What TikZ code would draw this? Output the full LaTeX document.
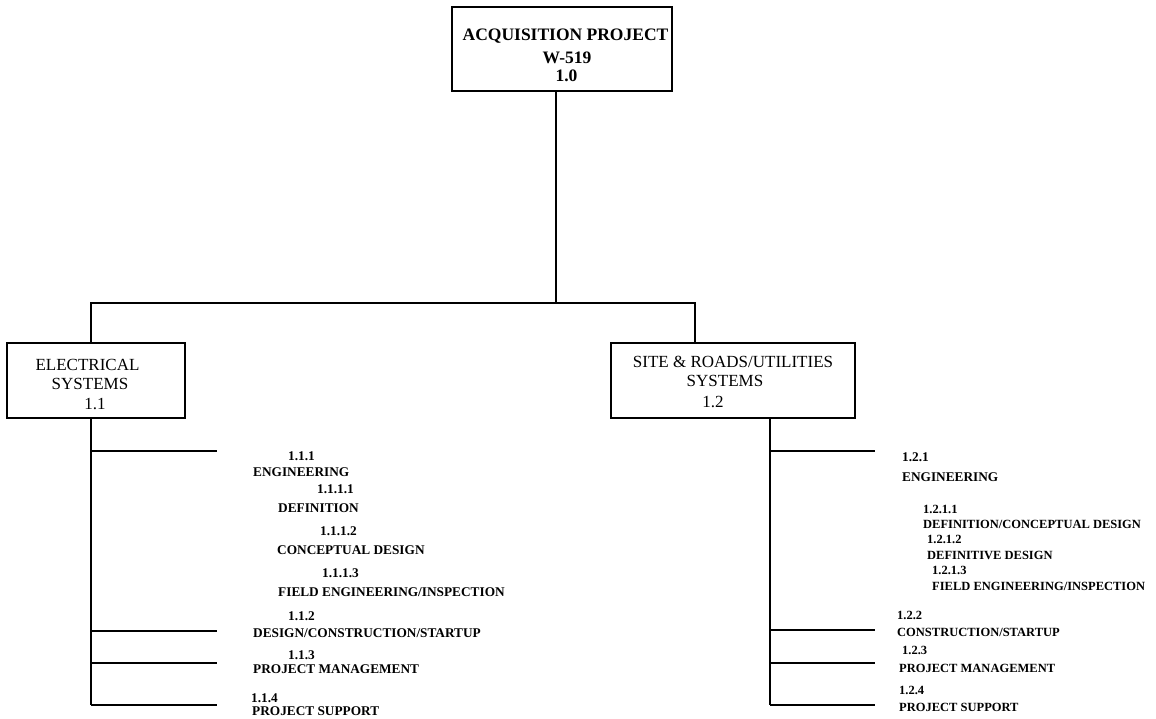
\documentclass[tikz,border=0pt]{standalone}
\usepackage{fontspec}
\setmainfont{Liberation Serif}
\begin{document}
\begin{tikzpicture}[x=1pt,y=-1pt,
  box/.style={draw, line width=1.4pt, inner sep=0pt},
  conn/.style={line width=1.4pt},
  lbl/.style={anchor=base west, inner sep=0pt, font=\fontsize{13.3}{15}\selectfont\bfseries},
  lblr/.style={anchor=base west, inner sep=0pt, font=\fontsize{12.5}{15}\selectfont\bfseries},
  boxtxt/.style={anchor=base, inner sep=0pt, font=\fontsize{17}{20}\selectfont},
  toptxt/.style={anchor=base, inner sep=0pt, font=\fontsize{17.5}{21}\selectfont\bfseries}]
\useasboundingbox[fill=white] (0,0) rectangle (1156,718);

% boxes
\node[box, minimum width=220pt, minimum height=84pt] (top) at (562,49) {};
\node[box, minimum width=178pt, minimum height=75pt] (left) at (96,380.5) {};
\node[box, minimum width=244pt, minimum height=75pt] (right) at (733,380.5) {};

\node[toptxt] (ttop1) at (565.5,40) {ACQUISITION PROJECT};
\node[toptxt] (ttop2) at (567,63) {W-519};
\node[toptxt] (ttop3) at (566.5,81) {1.0};

\node[boxtxt] (tl1) at (87.5,370) {ELECTRICAL};
\node[boxtxt] (tl2) at (90,389) {SYSTEMS};
\node[boxtxt] (tl3) at (95,409) {1.1};

\node[boxtxt] (tr1) at (733,367) {SITE \& ROADS/UTILITIES};
\node[boxtxt] (tr2) at (725,386) {SYSTEMS};
\node[boxtxt] (tr3) at (713,407) {1.2};

% top-level connectors
\coordinate (barM) at (556,303);
\coordinate (barL) at (91,303);
\coordinate (barR) at (695,303);
\draw[conn] (top.south -| barM) -- (barM);
\draw[conn] (left.north -| barL) -- (barL) -- (barR) -- (right.north -| barR);

% left trunk and branches
\coordinate (lt) at (91,705);
\coordinate (lb1) at (217,451);
\coordinate (lb2) at (217,631);
\coordinate (lb3) at (217,663);
\coordinate (lb4) at (217,705);
\draw[conn] (left.south -| lt) -- (lt);
\draw[conn] (lb1 -| lt) -- (lb1);
\draw[conn] (lb2 -| lt) -- (lb2);
\draw[conn] (lb3 -| lt) -- (lb3);
\draw[conn] (lb4 -| lt) -- (lb4);

% right trunk and branches
\coordinate (rt) at (770,705);
\coordinate (rb1) at (875,451);
\coordinate (rb2) at (875,630);
\coordinate (rb3) at (875,663);
\coordinate (rb4) at (875,705);
\draw[conn] (right.south -| rt) -- (rt);
\draw[conn] (rb1 -| rt) -- (rb1);
\draw[conn] (rb2 -| rt) -- (rb2);
\draw[conn] (rb3 -| rt) -- (rb3);
\draw[conn] (rb4 -| rt) -- (rb4);

% left labels
\node[lbl] (a1) at (288,460) {1.1.1};
\node[lbl] (a2) at (253,476) {ENGINEERING};
\node[lbl] (a3) at (317,493) {1.1.1.1};
\node[lbl] (a4) at (278,512) {DEFINITION};
\node[lbl] (a5) at (320,535) {1.1.1.2};
\node[lbl] (a6) at (277,554) {CONCEPTUAL DESIGN};
\node[lbl] (a7) at (322,577) {1.1.1.3};
\node[lbl] (a8) at (278,596) {FIELD ENGINEERING/INSPECTION};
\node[lbl] (a9) at (288,620) {1.1.2};
\node[lbl] (a10) at (253,637) {DESIGN/CONSTRUCTION/STARTUP};
\node[lbl] (a11) at (288,659) {1.1.3};
\node[lbl] (a12) at (253,673) {PROJECT MANAGEMENT};
\node[lbl] (a13) at (251,702) {1.1.4};
\node[lbl] (a14) at (252,715) {PROJECT SUPPORT};

% right labels
\node[lbl] (b1) at (902,461) {1.2.1};
\node[lbl] (b2) at (902,481) {ENGINEERING};
\node[lblr] (b3) at (923,513) {1.2.1.1};
\node[lblr] (b4) at (923,528) {DEFINITION/CONCEPTUAL DESIGN};
\node[lblr] (b5) at (927,543) {1.2.1.2};
\node[lblr] (b6) at (927,559) {DEFINITIVE DESIGN};
\node[lblr] (b7) at (932,574) {1.2.1.3};
\node[lblr] (b8) at (932,590) {FIELD ENGINEERING/INSPECTION};
\node[lblr] (b9) at (897,619) {1.2.2};
\node[lblr] (b10) at (897,636) {CONSTRUCTION/STARTUP};
\node[lblr] (b11) at (902,654) {1.2.3};
\node[lblr] (b12) at (899,672) {PROJECT MANAGEMENT};
\node[lblr] (b13) at (899,694) {1.2.4};
\node[lblr] (b14) at (899,711) {PROJECT SUPPORT};
\end{tikzpicture}
\end{document}
